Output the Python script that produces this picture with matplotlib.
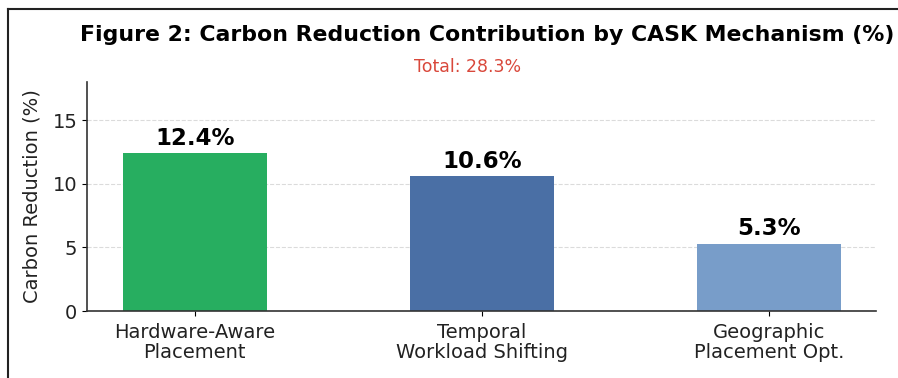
import matplotlib.pyplot as plt
from matplotlib.lines import Line2D

# contribution of each CASK mechanism
mechanisms = ['Hardware-Aware\nPlacement', 'Temporal\nWorkload Shifting', 'Geographic\nPlacement Opt.']
reduction = [12.4, 10.6, 5.3]
total = 28.3
colors = ['#27ae60', '#4a6fa5', '#789dc9']

fig = plt.figure(figsize=(8.98, 3.78), dpi=100)
ax = fig.add_axes([0.097, 0.177, 0.879, 0.606])

x = range(len(mechanisms))
bars = ax.bar(x, reduction, width=0.5, color=colors)
for b, v in zip(bars, reduction):
    ax.text(b.get_x() + b.get_width() / 2, v + 0.25, f'{v}%',
            ha='center', va='bottom', fontsize=16.5, fontweight='bold')

ax.set_xticks(list(x))
ax.set_xticklabels(mechanisms, fontsize=14, color='#222222', linespacing=1.1)
ax.tick_params(axis='x', pad=5)
ax.set_ylim(0, 18)
ax.set_yticks([0, 5, 10, 15])
ax.tick_params(axis='y', labelsize=14, labelcolor='#222222')
ax.set_ylabel('Carbon Reduction (%)', fontsize=14, color='#222222', labelpad=8)
ax.yaxis.grid(True, linestyle='--', color='#cccccc', alpha=0.7)
ax.set_axisbelow(True)
for s in ['top', 'right']:
    ax.spines[s].set_visible(False)
ax.spines['left'].set_color('#333333')
ax.spines['bottom'].set_color('#333333')
ax.spines['left'].set_linewidth(1.2)
ax.spines['bottom'].set_linewidth(1.2)

fig.text(0.542, 0.907, 'Figure 2: Carbon Reduction Contribution by CASK Mechanism (%)',
         ha='center', va='center', fontsize=15.8, fontweight='bold')
fig.text(0.521, 0.823, f'Total: {total}%', ha='center', va='center',
         fontsize=12.5, color='#d9483b')

# frame line along top and left edge
fig.add_artist(Line2D([0.009, 0.009], [0.0, 0.976], color='#222222', lw=1.5))
fig.add_artist(Line2D([0.009, 1.0], [0.976, 0.976], color='#222222', lw=1.5))

fig.savefig('out.png', dpi=100)
